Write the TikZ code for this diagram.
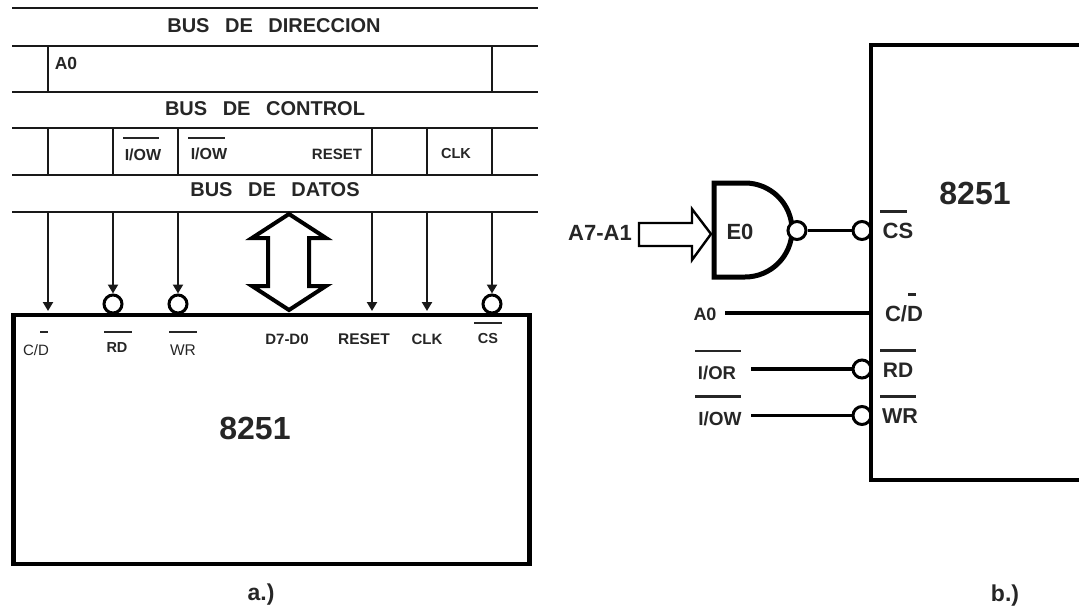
\documentclass[tikz,border=0pt]{standalone}
\usepackage{fontspec}
\setmainfont{Liberation Sans}
\usetikzlibrary{arrows.meta}
\tikzset{
  busline/.style={line width=2.8pt,draw=black!90},
  tap/.style={line width=2.4pt,draw=black!90},
  sig/.style={tap,-{Triangle[length=9pt,width=10pt]}},
  bubble/.style={circle,draw=black,line width=3pt,fill=white,minimum size=18pt,inner sep=0pt},
  chip/.style={draw=black,line width=4.6pt},
  lab/.style={inner sep=0pt,text=black!85},
  bold/.style={lab,font=\bfseries\fontsize{#1}{#1}\selectfont},
  thin/.style={lab,font=\fontsize{#1}{#1}\selectfont},
  bar/.style={line width=2.6pt,draw=black!85},
  wire/.style={line width=3.6pt,draw=black}
}
\begin{document}
\begin{tikzpicture}[x=1pt,y=-1pt]
\useasboundingbox (0,0) rectangle (1079,611);
% --- a.) bus lines
\foreach \n/\y in {a/8,b/46,c/92,d/128,e/175,f/212}{
  \coordinate (\n L) at (12,\y);
  \coordinate (\n R) at (538,\y);
  \draw[busline] (\n L) -- (\n R);
}
\node[bold=20] (busdir) at (274,26) {BUS\,\,\, DE\,\,\, DIRECCION};
\node[bold=20] (busctl) at (265,109) {BUS\,\,\, DE\,\,\, CONTROL};
\node[bold=20] (busdat) at (275,190) {BUS\,\,\, DE\,\,\, DATOS};
% bus taps
\draw[tap] (48,46) -- (48,92);
\draw[tap] (492,46) -- (492,92);
\foreach \x in {48,113,178,372,427,492}{\draw[tap] (\x,128) -- (\x,175);}
\node[bold=17.5] (a0top) at (66,63) {A0};
\node[bold=16] (iow1) at (143,155) {I/OW};
\node[bold=16] (iow2) at (209,154) {I/OW};
\node[bold=15] (resettop) at (337,154) {RESET};
\node[bold=14.5] (clktop) at (456,154) {CLK};
\draw[bar] (123,138) -- (159,138);
\draw[bar] (188,138) -- (225,138);
% --- a.) chip
\node[chip,minimum width=516pt,minimum height=249pt,inner sep=0pt,anchor=north west] (chipa) at (11,312.5) {};
\node[bold=32] (namea) at (255,428) {8251};
% bubbles
\node[bubble] (brd) at (113,304) {};
\node[bubble] (bwr) at (178,304) {};
\node[bubble] (bcs) at (492,304) {};
% arrows
\foreach \n/\x in {cd/48,rd/113,wr/178,res/372,clk/427,cs/492}{\coordinate (t\n) at (\x,212);}
\coordinate (pcd) at (48,311);
\coordinate (pres) at (372,311);
\coordinate (pclk) at (427,311);
\draw[sig] (tcd) -- (pcd);
\draw[sig] (tres) -- (pres);
\draw[sig] (tclk) -- (pclk);
\draw[sig] (trd) -- (brd.north);
\draw[sig] (twr) -- (bwr.north);
\draw[sig] (tcs) -- (bcs.north);
% double arrow
\draw[line width=4pt,draw=black,line join=miter,fill=white]
  (289,214) -- (326,238) -- (309,238) -- (309,286) -- (326,286) -- (289,310)
  -- (252,286) -- (268,286) -- (268,238) -- (252,238) -- cycle;
% labels in chip
\node[thin=15] (lcd) at (36,350) {C/D};
\draw[bar] (40,332) -- (48,332);
\node[bold=14.5] (lrd) at (117,348) {RD};
\draw[bar] (104,332) -- (132,332);
\node[thin=15.5] (lwr) at (183,350) {WR};
\draw[bar] (169,332) -- (197,332);
\node[bold=15] (ld) at (287,339) {D7-D0};
\node[bold=15.5] (lres) at (364,339) {RESET};
\node[bold=15] (lclk) at (427,339) {CLK};
\node[bold=14.5] (lcs) at (488,339) {CS};
\draw[bar] (474,323) -- (502,323);
\node[bold=23] (capa) at (261,595) {a.)};
% --- b.) chip
\draw[chip] (1085,45) -- (871,45) -- (871,480) -- (1085,480);
\node[bold=32] (nameb) at (975,193) {8251};
% gate
\draw[line width=5pt,draw=black,fill=white,line join=miter]
  (714,183) -- (745,183) arc[start angle=90,end angle=-90,radius=47pt] -- (714,277) -- cycle;
\node[bold=22] (e0) at (740,232) {E0};
\node[bubble] (bo) at (797,230.5) {};
\node[bubble] (bin) at (862,230.5) {};
\draw[wire] (bo) -- (bin);
% input arrow
\draw[line width=2.4pt,draw=black,fill=white,line join=miter]
  (639,223) -- (692,223) -- (692,209) -- (711,234) -- (692,260) -- (692,246) -- (639,246) -- cycle;
\node[bold=22] (a7) at (600,233) {A7-A1};
\node[bold=18] (a0b) at (705,314) {A0};
\coordinate (pa0) at (871,313);
\coordinate (ta0) at (725,313);
\draw[wire] (ta0) -- (pa0);
\node[bubble] (brdb) at (862,369) {};
\node[bubble] (bwrb) at (862,415.5) {};
\coordinate (tior) at (751,369);
\coordinate (tiow) at (751,415.5);
\draw[wire] (tior) -- (brdb);
\draw[wire] (tiow) -- (bwrb);
\draw[chip] (871,200) -- (871,440);
\node[bold=18.5] (ior) at (717,373) {I/OR};
\node[bold=19] (iowb) at (720,419) {I/OW};
\draw[bar] (695,351) -- (741,351);
\draw[bar] (695,396.5) -- (741,396.5);
\node[bold=22] (csb) at (898,231) {CS};
\draw[bar] (880,211.5) -- (907,211.5);
\node[bold=22] (cdb) at (904,314) {C/D};
\draw[bar] (908,294.5) -- (916,294.5);
\node[bold=21] (rdb) at (898,370) {RD};
\draw[bar] (880,350.5) -- (916,350.5);
\node[bold=21.5] (wrb) at (900,416) {WR};
\draw[bar] (880,396.5) -- (916,396.5);
\node[bold=23] (capb) at (1005,596) {b.)};
\end{tikzpicture}
\end{document}
